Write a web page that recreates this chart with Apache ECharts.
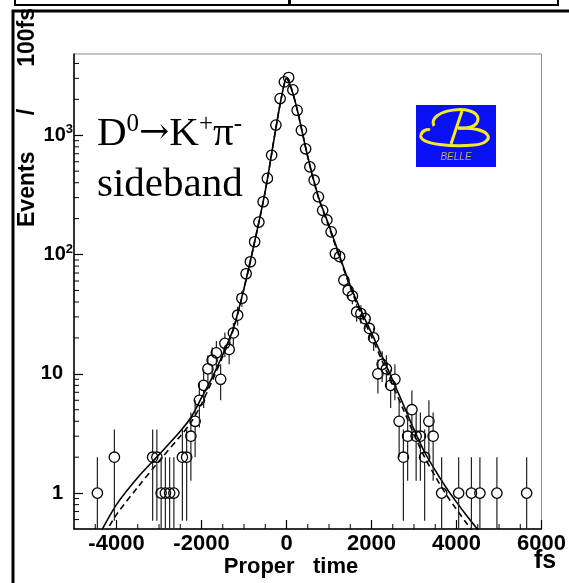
<!DOCTYPE html>
<html>
<head>
<meta charset="utf-8">
<script src="https://cdn.jsdelivr.net/npm/echarts@6/dist/echarts.min.js"></script>
<style>
  html, body { margin: 0; padding: 0; background: #ffffff; }
  #chart { width: 569px; height: 583px; }
</style>
</head>
<body>
<div id="chart"></div>
<script>
// Proper-time distribution, D0 -> K+ pi- sideband, 100 fs bins
const binTime = [-4450, -4050, -3150, -3050, -2950, -2850, -2750, -2650, -2450, -2350,
  -2250, -2150, -2050, -1950, -1850, -1750, -1650, -1550, -1450, -1350,
  -1250, -1150, -1050, -950, -850, -750, -650, -550, -450, -350,
  -250, -150, -50, 50, 150, 250, 350, 450, 550, 650,
  750, 850, 950, 1050, 1150, 1250, 1350, 1450, 1550, 1650,
  1750, 1850, 1950, 2050, 2150, 2250, 2350, 2450, 2550, 2650,
  2750, 2850, 2950, 3050, 3150, 3250, 3350, 3450, 3650, 4050,
  4350, 4550, 4950, 5650];
const binCount = [1, 2, 2, 2, 1, 1, 1, 1, 2, 2,
  3, 4, 6, 8, 11, 13, 15, 9, 18, 16,
  22, 31, 43, 69, 87, 128, 187, 277, 435, 680,
  1217, 2030, 2800, 3050, 2400, 1620, 1100, 770, 543, 420,
  305, 235, 195, 155, 102, 96, 61, 50, 45, 33,
  32, 29, 24, 20, 10, 12, 11, 8, 9, 4,
  2, 3, 5, 3, 3, 2, 4, 3, 1, 1,
  1, 1, 1, 1];

// Fitted curves (solid: full fit, dashed: alternative fit)
const fitTime = [-4400, -4000, -3500, -3000, -2500, -2250, -2000, -1750, -1500, -1250,
  -1000, -750, -500, -250, -100, 0, 100, 250, 500, 750,
  1000, 1250, 1500, 1750, 2000, 2250, 2500, 2750, 3000, 3250,
  3500, 3750, 4000, 4250, 4550];
const fitSolid = [0.45, 0.80, 1.35, 2.1, 3.3, 4.3, 6.3, 9.3, 14.5, 24,
  52, 128, 340, 1150, 2250, 3000, 2550, 1650, 660, 305,
  175, 97, 55, 34, 22, 14, 8.8, 5.5, 3.4, 2.2,
  1.55, 1.12, 0.84, 0.64, 0.47];
const fitDashed = [0.38, 0.66, 1.12, 1.85, 3.0, 3.9, 5.6, 8.7, 14, 23.5,
  52, 128, 340, 1150, 2250, 3000, 2550, 1650, 660, 300,
  170, 94, 53, 32, 20.5, 12.8, 8.0, 5.0, 3.1, 2.0,
  1.38, 0.98, 0.73, 0.55, 0.40];

// Axis ranges and tick values
const X_MIN = -5000, X_MAX = 6000;
const Y_MIN = 0.5, Y_MAX = 4800;
const xMajorTicks = [-4000, -2000, 0, 2000, 4000, 6000];
const xMinorTicks = [-4500, -3500, -3000, -2500, -1500, -1000, -500, 500, 1000, 1500,
  2500, 3000, 3500, 4500, 5000, 5500];
const yMajorTicks = [1, 10, 100, 1000];
const yMinorTicks = [0.6, 0.7, 0.8, 0.9, 2, 3, 4, 5, 6, 7, 8, 9,
  20, 30, 40, 50, 60, 70, 80, 90, 200, 300, 400, 500, 600, 700, 800, 900,
  2000, 3000, 4000];

const LABEL_FONT = '"Liberation Sans", Arial, Helvetica, sans-serif';
const SERIF_FONT = '"Liberation Serif", "Times New Roman", Times, serif';

const chart = echarts.init(document.getElementById('chart'), null, { renderer: 'canvas' });

function zip(a, b) { return a.map((v, i) => [v, b[i]]); }

// data points: open circle with Poisson error bar kept outside the marker
function renderPoint(params, api) {
  const t = api.value(0), n = api.value(1);
  const c = api.coord([t, n]);
  const r = 5.2;
  const err = Math.sqrt(n);
  const yTop = api.coord([t, Math.min(n + err, Y_MAX)])[1];
  const lo = n - err;
  const yBot = api.coord([t, lo > Y_MIN ? lo : Y_MIN])[1];
  const barStyle = { stroke: '#222', lineWidth: 1.2 };
  const children = [];
  if (yTop < c[1] - r) {
    children.push({ type: 'line', shape: { x1: c[0], y1: yTop, x2: c[0], y2: c[1] - r }, style: barStyle });
  }
  if (yBot > c[1] + r) {
    children.push({ type: 'line', shape: { x1: c[0], y1: c[1] + r, x2: c[0], y2: yBot }, style: barStyle });
  }
  children.push({ type: 'circle', shape: { cx: c[0], cy: c[1], r: r },
    style: { fill: 'rgba(255,255,255,0)', stroke: '#000', lineWidth: 1.3 } });
  return { type: 'group', children: children };
}

function renderXMinor(params, api) {
  const p = api.coord([api.value(0), Y_MIN]);
  return { type: 'line', shape: { x1: p[0], y1: p[1], x2: p[0], y2: p[1] - 5 },
    style: { stroke: '#000', lineWidth: 1 } };
}
function renderYMinor(params, api) {
  const p = api.coord([X_MIN, api.value(1)]);
  return { type: 'line', shape: { x1: p[0], y1: p[1], x2: p[0] + 5, y2: p[1] },
    style: { stroke: '#000', lineWidth: 1 } };
}

const option = {
  animation: false,
  backgroundColor: '#ffffff',
  grid: { left: 74, right: 19, top: 54, bottom: 54, show: true,
    borderColor: '#8a8a8a', borderWidth: 1, backgroundColor: 'transparent' },
  xAxis: {
    type: 'value', min: X_MIN, max: X_MAX,
    axisLine: { show: true, onZero: false, lineStyle: { color: '#000', width: 1.5 } },
    axisTick: { show: true, inside: true, length: 9, customValues: xMajorTicks,
      lineStyle: { color: '#000', width: 1.2 } },
    axisLabel: { customValues: xMajorTicks, color: '#000', fontFamily: LABEL_FONT,
      fontSize: 22, fontWeight: 'bold', margin: 4,
      formatter: function (v) { return String(v); } },
    splitLine: { show: false }
  },
  yAxis: {
    type: 'log', logBase: 10, min: Y_MIN, max: Y_MAX,
    axisLine: { show: true, onZero: false, lineStyle: { color: '#000', width: 1.5 } },
    axisTick: { show: true, inside: true, length: 9, customValues: yMajorTicks,
      lineStyle: { color: '#000', width: 1.2 } },
    axisLabel: {
      customValues: yMajorTicks, margin: 1, color: '#000',
      formatter: function (v) {
        const e = Math.round(Math.log10(v));
        return e >= 2 ? '{b|10}{s|' + e + '}' : '{b|' + Math.round(v) + '}{p|}';
      },
      rich: {
        b: { fontFamily: LABEL_FONT, fontSize: 20, fontWeight: 'bold', color: '#000', lineHeight: 24 },
        s: { fontFamily: LABEL_FONT, fontSize: 13, fontWeight: 'bold', color: '#000',
          verticalAlign: 'top', lineHeight: 12 },
        p: { width: 10 }
      }
    },
    splitLine: { show: false }
  },
  series: [
    { type: 'line', name: 'fit', data: zip(fitTime, fitSolid), showSymbol: false, smooth: 0.3,
      clip: true, lineStyle: { color: '#000', width: 1.6 }, z: 3 },
    { type: 'line', name: 'fit2', data: zip(fitTime, fitDashed), showSymbol: false, smooth: 0.3,
      clip: true, lineStyle: { color: '#000', width: 1.6, type: [6, 4] }, z: 3 },
    { type: 'custom', name: 'data', data: zip(binTime, binCount), renderItem: renderPoint,
      clip: true, z: 4 },
    { type: 'custom', name: 'xminor', data: xMinorTicks.map(v => [v, Y_MIN]),
      renderItem: renderXMinor, clip: false, silent: true, z: 5 },
    { type: 'custom', name: 'yminor', data: yMinorTicks.map(v => [X_MIN, v]),
      renderItem: renderYMinor, clip: false, silent: true, z: 5 }
  ],
  graphic: [
    // axis titles
    { type: 'text', x: 291, y: 567, z: 10,
      style: { text: 'Proper   time', font: 'bold 22px ' + LABEL_FONT, fill: '#000',
        textAlign: 'center', textVerticalAlign: 'middle' } },
    { type: 'text', x: 545, y: 561, z: 10,
      style: { text: 'fs', font: 'bold 25px ' + LABEL_FONT, fill: '#000',
        textAlign: 'center', textVerticalAlign: 'middle' } },
    { type: 'text', x: 28, y: 227, rotation: Math.PI / 2, z: 10,
      style: { text: 'Events', font: 'bold 23px ' + LABEL_FONT, fill: '#000',
        textAlign: 'left', textVerticalAlign: 'middle' } },
    { type: 'text', x: 28, y: 112, rotation: Math.PI / 2, z: 10,
      style: { text: '/', font: 'bold 23px ' + LABEL_FONT, fill: '#000',
        textAlign: 'center', textVerticalAlign: 'middle' } },
    { type: 'text', x: 28, y: 8, rotation: Math.PI / 2, z: 10,
      style: { text: '100fs', font: 'bold 23px ' + LABEL_FONT, fill: '#000',
        textAlign: 'right', textVerticalAlign: 'middle' } },
    // decay channel annotation
    { type: 'text', x: 97, y: 134, z: 10,
      style: {
        text: '{m|D}{u|0}{a|\u2192}{m|K}{u|+}{m|\u03c0}{u|-}',
        textVerticalAlign: 'middle',
        rich: {
          m: { fontFamily: SERIF_FONT, fontSize: 41, fill: '#000', lineHeight: 44 },
          a: { fontFamily: '"DejaVu Serif", serif', fontSize: 36, fill: '#000', lineHeight: 44 },
          u: { fontFamily: SERIF_FONT, fontSize: 25, fill: '#000', lineHeight: 25, verticalAlign: 'top' }
        }
      } },
    { type: 'text', x: 97, y: 185, z: 10,
      style: { text: 'sideband', font: '41px ' + SERIF_FONT, fill: '#000',
        textVerticalAlign: 'middle' } },
    // Belle emblem
    { type: 'group', x: 416, y: 105, z: 10, children: [
      { type: 'rect', shape: { x: 0, y: 0, width: 80, height: 62 }, style: { fill: '#0a10f5' } },
      { type: 'bezierCurve', shape: { x1: 18, y1: 21, cpx1: 10, cpy1: 4, cpx2: 62, cpy2: -2, x2: 62, y2: 14 },
        style: { stroke: '#f2ea2a', lineWidth: 3, fill: 'none' } },
      { type: 'bezierCurve', shape: { x1: 62, y1: 14, cpx1: 62, cpy1: 22, cpx2: 50, cpy2: 24, x2: 42, y2: 23 },
        style: { stroke: '#f2ea2a', lineWidth: 3, fill: 'none' } },
      { type: 'bezierCurve', shape: { x1: 42, y1: 23, cpx1: 78, cpy1: 22, cpx2: 80, cpy2: 38, x2: 58, y2: 40 },
        style: { stroke: '#f2ea2a', lineWidth: 3, fill: 'none' } },
      { type: 'bezierCurve', shape: { x1: 58, y1: 40, cpx1: 40, cpy1: 42, cpx2: 2, cpy2: 40, x2: 5, y2: 30 },
        style: { stroke: '#f2ea2a', lineWidth: 3, fill: 'none' } },
      { type: 'bezierCurve', shape: { x1: 5, y1: 30, cpx1: 6, cpy1: 25, cpx2: 12, cpy2: 24, x2: 14, y2: 25 },
        style: { stroke: '#f2ea2a', lineWidth: 3, fill: 'none' } },
      { type: 'line', shape: { x1: 46, y1: 6, x2: 35, y2: 39 },
        style: { stroke: '#f2ea2a', lineWidth: 3 } },
      { type: 'text', x: 40, y: 52,
        style: { text: 'BELLE', font: 'italic 10px ' + LABEL_FONT, fill: '#b9ad55',
          textAlign: 'center', textVerticalAlign: 'middle' } }
    ] },
    // canvas frame and title box edge
    { type: 'rect', z: 20, shape: { x: 15, y: -10, width: 543, height: 15 },
      style: { fill: 'none', stroke: '#000', lineWidth: 2 } },
    { type: 'rect', z: 20, shape: { x: 288, y: 0, width: 3, height: 4 }, style: { fill: '#000' } },
    { type: 'polyline', z: 20, shape: { points: [[13, 583], [13, 11], [569, 11]] },
      style: { stroke: '#000', lineWidth: 3, fill: 'none' } }
  ]
};

chart.setOption(option);
</script>
</body>
</html>
